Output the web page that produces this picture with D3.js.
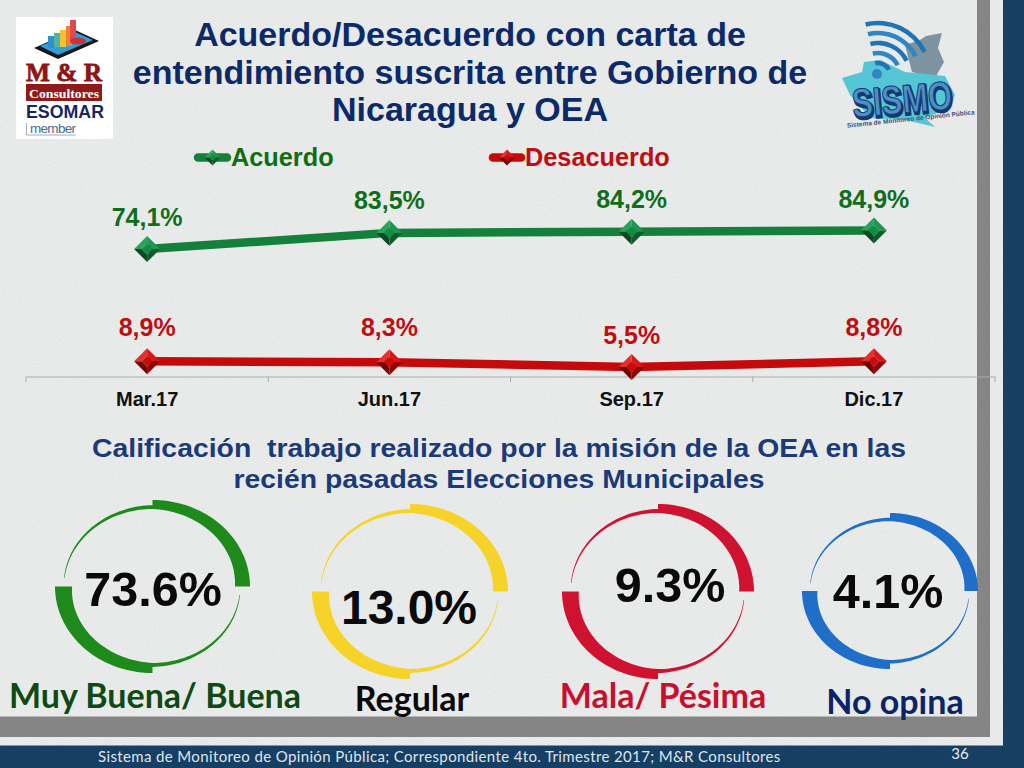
<!DOCTYPE html>
<html><head><meta charset="utf-8">
<script src="https://cdn.jsdelivr.net/npm/d3@7"></script>
<style>html,body{margin:0;padding:0;background:#e7e9e9;overflow:hidden}svg{display:block}text{font-family:"Liberation Sans",Arial,sans-serif}</style>
</head><body><svg id="c" width="1024" height="768"></svg>
<script>
const categories=["Mar.17","Jun.17","Sep.17","Dic.17"];
const acuerdo=[74.1,83.5,84.2,84.9];
const desacuerdo=[8.9,8.3,5.5,8.8];
const acuerdoLabels=["74,1%","83,5%","84,2%","84,9%"];
const desacuerdoLabels=["8,9%","8,3%","5,5%","8,8%"];
const acuerdoLabelY=[226,209,208,208];
const desacuerdoLabelY=[336,336,344,336];
const titleLines=["Acuerdo/Desacuerdo con carta de","entendimiento suscrita entre Gobierno de","Nicaragua y OEA"];
const subtitleLines=["Calificación  trabajo realizado por la misión de la OEA en las","recién pasadas Elecciones Municipales"];
const subtitleWidths=[814,531];
const ringValues=["73.6%","13.0%","9.3%","4.1%"];
const ringLabels=["Muy Buena/ Buena","Regular","Mala/ Pésima","No opina"];
const ringColors=["#1f8a1c","#f5d329","#cf1230","#1f6fc8"];
const ringLabelColors=["#0f4a14","#0a0a0a","#c8102e","#0b2468"];
const ringBoxes=[[55,250,500,673],[312,508,504,679],[562,754,504,679],[802,978,513,669]];
const ringValuePos=[[153,606,48.5],[409,624,48],[670,602,48.5],[888,608,48.5]];
const ringLabelPos=[[155,708],[412,711],[663,708],[895,714]];
const footer="Sistema de Monitoreo de Opinión Pública; Correspondiente 4to. Trimestre 2017; M&R Consultores";

const svg=d3.select("#c");
const defs=svg.append("defs");
const f=defs.append("filter").attr("id","noise").attr("x",0).attr("y",0).attr("width","100%").attr("height","100%");
f.append("feTurbulence").attr("type","fractalNoise").attr("baseFrequency",0.75).attr("numOctaves",2).attr("seed",4);
f.append("feColorMatrix").attr("values","0 0 0 0 0.55  0 0 0 0 0.55  0 0 0 0 0.55  0.4 0 0 0 -0.1");

svg.append("rect").attr("width",1024).attr("height",768).attr("fill","#eceeee");
svg.append("rect").attr("width",1024).attr("height",768).attr("filter","url(#noise)");
// frame
svg.append("rect").attr("x",977).attr("y",0).attr("width",13).attr("height",737).attr("fill","#858585");
svg.append("rect").attr("x",0).attr("y",716.5).attr("width",990).attr("height",20.5).attr("fill","#858585");
svg.append("rect").attr("x",1003).attr("y",0).attr("width",21).attr("height",768).attr("fill","#173f63");
svg.append("rect").attr("x",0).attr("y",745.5).attr("width",1024).attr("height",22.5).attr("fill","#173f63");

// title
svg.append("g").selectAll("text").data(titleLines).join("text")
 .attr("x",470).attr("y",(d,i)=>[46,84,121][i]).attr("text-anchor","middle")
 .attr("font-size",34).attr("font-weight","bold").attr("fill","#0c2a6a").text(d=>d);
svg.append("g").selectAll("text").data(subtitleLines).join("text")
 .attr("x",499).attr("y",(d,i)=>[457,488][i]).attr("text-anchor","middle").style("white-space","pre")
 .attr("font-size",26.5).attr("font-weight","bold").attr("fill","#1b3a78")
 .attr("textLength",(d,i)=>subtitleWidths[i]).attr("lengthAdjust","spacingAndGlyphs").text(d=>d);

// chart
const x=d3.scaleBand().domain(categories).range([26,995]);
const y=d3.scaleLinear().domain([0,100]).range([376.5,204.5]);
const axis=svg.append("g").attr("transform","translate(0,376.5)").call(d3.axisBottom(x).tickSize(0).tickPadding(15));
axis.select(".domain").attr("stroke","#a9aeb0").attr("stroke-width",1.2);
axis.selectAll("text").attr("font-size",20).attr("font-weight","bold").attr("fill","#111").attr("font-family","Liberation Sans");
svg.append("g").selectAll("line").data(d3.range(categories.length+1)).join("line")
 .attr("x1",i=>x.range()[0]+i*x.step()).attr("x2",i=>x.range()[0]+i*x.step())
 .attr("y1",376.5).attr("y2",382).attr("stroke","#a9aeb0").attr("stroke-width",1);

function diamond(g,cx,cy,r,shades){
 const pts=[[0,-r],[r,0],[0,r],[-r,0]], k=r*0.42;
 const pth=(a)=>"M"+a.map(p=>[cx+p[0],cy+p[1]].join(",")).join("L")+"Z";
 const faces=[[pts[0],pts[1],[k,0],[0,-k]],[pts[1],pts[2],[0,k],[k,0]],[pts[2],pts[3],[-k,0],[0,k]],[pts[3],pts[0],[0,-k],[-k,0]],[[0,-k],[k,0],[0,k],[-k,0]]];
 g.selectAll(null).data(faces).join("path").attr("d",pth).attr("fill",(d,i)=>shades[i]);
}
const greenShades=["#1f9650","#0f5c2b","#0b4a22","#2aa35a","#148a45"];
const redShades=["#d81818","#8e0606","#6f0404","#e53030","#c90d0d"];
const series=[
 {v:acuerdo,c:"#15803c",s:greenShades,l:acuerdoLabels,ly:acuerdoLabelY,tc:"#0f6e1c"},
 {v:desacuerdo,c:"#c40a0a",s:redShades,l:desacuerdoLabels,ly:desacuerdoLabelY,tc:"#c00d12"}];
const line=d3.line().x((d,i)=>x(categories[i])+x.bandwidth()/2).y(d=>y(d));
series.forEach(s=>{
 svg.append("path").attr("d",line(s.v)).attr("fill","none").attr("stroke",s.c).attr("stroke-width",8.5);
 const g=svg.append("g");
 s.v.forEach((d,i)=>diamond(g.append("g"),x(categories[i])+x.bandwidth()/2,y(d),13,s.s));
 svg.append("g").selectAll("text").data(s.l).join("text")
  .attr("x",(d,i)=>x(categories[i])+x.bandwidth()/2).attr("y",(d,i)=>s.ly[i])
  .attr("text-anchor","middle").attr("font-size",25).attr("font-weight","bold").attr("fill",s.tc).text(d=>d);
});
// legend
[["Acuerdo",198,227,231,series[0]],["Desacuerdo",493,521,525,series[1]]].forEach(([t,a,b,tx,s])=>{
 svg.append("line").attr("x1",a).attr("x2",b).attr("y1",157.5).attr("y2",157.5).attr("stroke",s.c).attr("stroke-width",8.5).attr("stroke-linecap","round");
 diamond(svg.append("g"),(a+b)/2,157.5,8,s.s);
 svg.append("text").attr("x",tx).attr("y",166).attr("font-size",25.3).attr("font-weight","bold").attr("fill",s===series[0]?"#0f6e12":"#c00d12").text(t);
});

// rings
function ringPath(b){
 const cx=(b[0]+b[1])/2, cy=(b[2]+b[3])/2, rx=(b[1]-b[0])/2, ry=(b[3]-b[2])/2, sc=rx/97;
 const P=(t,d)=>[cx+(rx-d)*Math.sin(t),cy-(ry-d)*Math.cos(t)];
 const seg=(t0,t1,dOut,dIn)=>{
  const ts=d3.range(0,41).map(i=>i/40);
  const o=ts.map(u=>P(t0+(t1-t0)*u,dOut(u)));
  const n=ts.map(u=>P(t0+(t1-t0)*u,dIn(u))).reverse();
  return d3.line()(o.concat(n))+"Z";
 };
 const h=Math.PI/2;
 return [
  seg(0,h,()=>0,u=>(9+6*u)*sc),
  seg(0,-h*0.93,u=>(5+3.5*u)*sc,()=>9*sc),
  seg(Math.PI,Math.PI+h,()=>0,u=>(10+7*u)*sc),
  seg(Math.PI,h*1.07,u=>(6+3.5*u)*sc,()=>10*sc)
 ].join("");
}
svg.append("g").selectAll("path").data(ringBoxes).join("path").attr("d",ringPath).attr("fill",(d,i)=>ringColors[i]);
svg.append("g").selectAll("text").data(ringValues).join("text")
 .attr("x",(d,i)=>ringValuePos[i][0]).attr("y",(d,i)=>ringValuePos[i][1]).attr("font-size",(d,i)=>ringValuePos[i][2])
 .attr("text-anchor","middle").attr("font-weight","bold").attr("fill","#0a0a0a").text(d=>d);
svg.append("g").selectAll("text").data(ringLabels).join("text")
 .attr("x",(d,i)=>ringLabelPos[i][0]).attr("y",(d,i)=>ringLabelPos[i][1])
 .attr("text-anchor","middle").attr("font-weight","bold").attr("font-size",34).attr("fill",(d,i)=>ringLabelColors[i])
 .style("font-family","Lato").text(d=>d);

// footer
svg.append("text").attr("x",98).attr("y",762).attr("font-size",15).attr("fill","#dfe6ec").style("font-family","Lato").attr("letter-spacing",0.37).text(footer);
svg.append("text").attr("x",960).attr("y",759).attr("font-size",15).attr("fill","#e6ecf0").style("font-family","Lato").attr("text-anchor","middle").text("36");

// M&R logo
const lg=svg.append("g");
lg.append("rect").attr("x",16).attr("y",17).attr("width",97).attr("height",122).attr("fill","#fff");
lg.append("path").attr("d","M34 48L75 30 99 41 58 59Z").attr("fill","#161616");
lg.append("path").attr("d","M40 46L75 32 93 40 58 55Z").attr("fill","#2f9fd6");
[[48,36,"#2f8fd0",12],[54,33,"#4fb5a0",14],[60,30,"#f2c230",17],[66,26,"#f08030",20],[70,20,"#e04a50",21]].forEach(b=>lg.append("rect").attr("x",b[0]).attr("y",b[1]).attr("width",6).attr("height",b[3]).attr("fill",b[2]));
lg.append("ellipse").attr("cx",78).attr("cy",41).attr("rx",8).attr("ry",3.5).attr("fill","#c8323a");
lg.append("text").attr("x",64).attr("y",81).attr("text-anchor","middle").attr("font-size",25).attr("font-weight","bold").attr("fill","#8f1414").attr("stroke","#8f1414").attr("stroke-width",0.8).style("font-family","Liberation Serif").attr("textLength",76).attr("lengthAdjust","spacingAndGlyphs").text("M & R");
lg.append("rect").attr("x",26).attr("y",84).attr("width",76).attr("height",17).attr("fill","#8f1a1a");
lg.append("text").attr("x",64).attr("y",98).attr("text-anchor","middle").attr("font-size",12.5).attr("font-weight","bold").attr("fill","#fff").style("font-family","Liberation Serif").attr("textLength",70).attr("lengthAdjust","spacingAndGlyphs").text("Consultores");
lg.append("text").attr("x",65).attr("y",118).attr("text-anchor","middle").attr("font-size",18.5).attr("font-weight","bold").attr("fill","#15275e").attr("textLength",78).attr("lengthAdjust","spacingAndGlyphs").text("ESOMAR");
lg.append("text").attr("x",30).attr("y",133).attr("font-size",13.5).attr("fill","#4a6a90").attr("textLength",46).text("member");
lg.append("path").attr("d","M26.5 123V135H76").attr("fill","none").attr("stroke","#7f9ab8").attr("stroke-width",0.8);

// SISMO logo
const sg=svg.append("g");
sg.append("path").attr("d","M905 45L920 40 926 36 942 33 938 48 944 62 935 78 912 72Z").attr("fill","#7d949e");
sg.append("path").attr("d","M842 78L862 72 864 62 880 60 905 72 945 76 955 95 950 108 925 118 935 127 905 120 870 118 850 95Z").attr("fill","#55c6d6");
[12,22,32,42,52].forEach(r=>sg.append("path").attr("d",d3.arc()({innerRadius:r-2.3,outerRadius:r+2.3,startAngle:-0.1,endAngle:1.25})).attr("transform","translate(878,75) rotate(-8)").attr("fill",r%4?"#2f86c2":"#1f74b6"));
sg.append("circle").attr("cx",877).attr("cy",74).attr("r",5).attr("fill","#2f86c2");
sg.append("g").attr("transform","rotate(-5 902 100)").call(g=>{
 g.append("text").attr("x",903).attr("y",115).attr("text-anchor","middle").attr("font-size",40).attr("font-weight","bold").attr("fill","#14396f").attr("stroke","#14396f").attr("stroke-width",3).attr("textLength",100).attr("lengthAdjust","spacingAndGlyphs").text("SISMO");
 g.append("text").attr("x",902).attr("y",113).attr("text-anchor","middle").attr("font-size",40).attr("font-weight","bold").attr("fill","#4f8fc8").attr("stroke","#14396f").attr("stroke-width",1).attr("textLength",100).attr("lengthAdjust","spacingAndGlyphs").text("SISMO");
});
sg.append("text").attr("x",911).attr("y",121).attr("text-anchor","middle").attr("font-size",6.5).attr("font-weight","bold").attr("fill","#3a4f80").attr("transform","rotate(-6 911 121)").text("Sistema de Monitoreo de Opinión Pública");
</script></body></html>
